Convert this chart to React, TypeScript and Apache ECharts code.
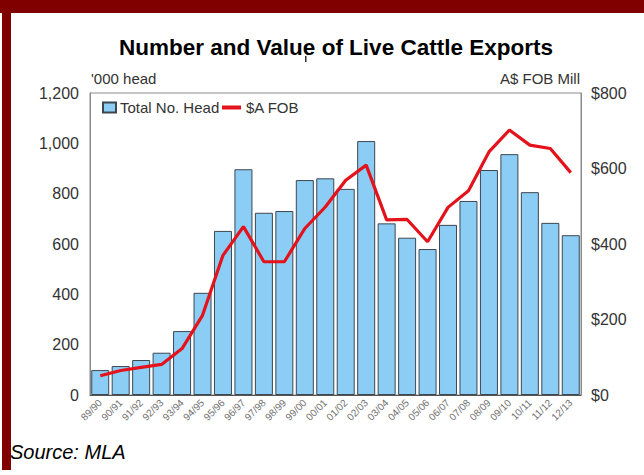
import React, { useEffect, useRef } from "react";
import * as echarts from "echarts";

const categories = [
  "89/90", "90/91", "91/92", "92/93", "93/94", "94/95", "95/96", "96/97",
  "97/98", "98/99", "99/00", "00/01", "01/02", "02/03", "03/04", "04/05",
  "05/06", "06/07", "07/08", "08/09", "09/10", "10/11", "11/12", "12/13",
];
const totalHead = [
  99, 115, 139, 168, 254, 406, 652, 897, 724, 731, 854, 861, 819, 1009, 682,
  625, 580, 676, 771, 894, 957, 806, 684, 635,
];
const fobValue = [
  51, 65, 73, 81, 123, 211, 370, 446, 353, 353, 441, 498, 569, 609, 464, 465,
  406, 497, 541, 644, 702, 662, 653, 589,
];
const leftTicks = { min: 0, max: 1200, interval: 200 };
const rightTicks = { min: 0, max: 800, interval: 200 };

const FONT = "'Liberation Sans', Arial, Helvetica, sans-serif";
const RED = "#e3121b";

export default function App() {
  const ref = useRef<HTMLDivElement>(null);
  useEffect(() => {
    if (!ref.current) return;
    const chart = echarts.init(ref.current, null, { renderer: "svg" });
    chart.setOption({
      animation: false,
      backgroundColor: "#ffffff",
      textStyle: { fontFamily: FONT },
      grid: {
        left: 90,
        right: 63,
        top: 93,
        bottom: 80,
        show: true,
        borderColor: "#8a8a8a",
        borderWidth: 1,
        containLabel: false,
      },
      legend: [
        {
          left: 97,
          top: 95,
          itemWidth: 13,
          itemHeight: 10,
          itemGap: 6,
          textStyle: { fontFamily: FONT, fontSize: 15, color: "#333", padding: [0, 0, 0, -1] },
          data: [{ name: "Total No. Head", icon: "rect" }],
        },
        {
          left: 217,
          top: 95,
          itemWidth: 19,
          itemHeight: 4,
          textStyle: { fontFamily: FONT, fontSize: 15, color: "#333" },
          data: [{ name: "$A FOB", icon: "rect", itemStyle: { color: RED } }],
        },
      ],
      xAxis: {
        type: "category",
        data: categories,
        axisLine: { lineStyle: { color: "#555" } },
        axisTick: { show: false },
        axisLabel: {
          rotate: 45,
          fontSize: 10,
          color: "#707070",
          margin: 6,
          interval: 0,
          fontFamily: FONT,
        },
      },
      yAxis: [
        {
          type: "value",
          min: leftTicks.min,
          max: leftTicks.max,
          interval: leftTicks.interval,
          axisLine: { show: true, lineStyle: { color: "#8a8a8a" } },
          axisTick: { show: false },
          splitLine: { show: false },
          axisLabel: {
            fontSize: 16,
            color: "#333",
            margin: 11,
            fontFamily: FONT,
            formatter: (v: number) => v.toLocaleString("en-US"),
          },
        },
        {
          type: "value",
          position: "right",
          min: rightTicks.min,
          max: rightTicks.max,
          interval: rightTicks.interval,
          axisLine: { show: true, lineStyle: { color: "#8a8a8a" } },
          axisTick: { show: false },
          splitLine: { show: false },
          axisLabel: {
            fontSize: 16,
            color: "#333",
            margin: 10,
            fontFamily: FONT,
            formatter: (v: number) => "$" + v,
          },
        },
      ],
      series: [
        {
          name: "Total No. Head",
          type: "bar",
          yAxisIndex: 0,
          data: totalHead,
          barCategoryGap: "12%",
          itemStyle: {
            color: "#8ccdf6",
            borderColor: "#3c4750",
            borderWidth: 1,
          },
        },
        {
          name: "$A FOB",
          type: "line",
          yAxisIndex: 1,
          data: fobValue,
          symbol: "none",
          lineStyle: { color: RED, width: 3.2 },
          itemStyle: { color: RED },
        },
      ],
      graphic: [
        {
          type: "rect",
          shape: { x: 0, y: 0, width: 644, height: 13 },
          style: { fill: "#800000" },
        },
        {
          type: "rect",
          shape: { x: 2, y: 0, width: 9, height: 470 },
          style: { fill: "#800000" },
        },
        {
          type: "text",
          x: 336,
          y: 47,
          style: {
            text: "Number and Value of Live Cattle Exports",
            font: "bold 22.5px " + FONT,
            fill: "#000",
            align: "center",
            verticalAlign: "middle",
          },
        },
        {
          type: "rect",
          shape: { x: 305, y: 56, width: 1.5, height: 6 },
          style: { fill: "#333" },
        },
        {
          type: "text",
          x: 91,
          y: 78,
          style: {
            text: "'000 head",
            font: "15px " + FONT,
            fill: "#333",
            align: "left",
            verticalAlign: "middle",
          },
        },
        {
          type: "text",
          x: 580,
          y: 78,
          style: {
            text: "A$ FOB Mill",
            font: "15px " + FONT,
            fill: "#333",
            align: "right",
            verticalAlign: "middle",
          },
        },
        {
          type: "text",
          x: 10,
          y: 452,
          style: {
            text: "Source: MLA",
            font: "italic 20px " + FONT,
            fill: "#000",
            align: "left",
            verticalAlign: "middle",
          },
        },
      ],
    });
    return () => chart.dispose();
  }, []);
  return (
    <div
      ref={ref}
      style={{ position: "fixed", left: 0, top: 0, width: 644, height: 475 }}
    />
  );
}
